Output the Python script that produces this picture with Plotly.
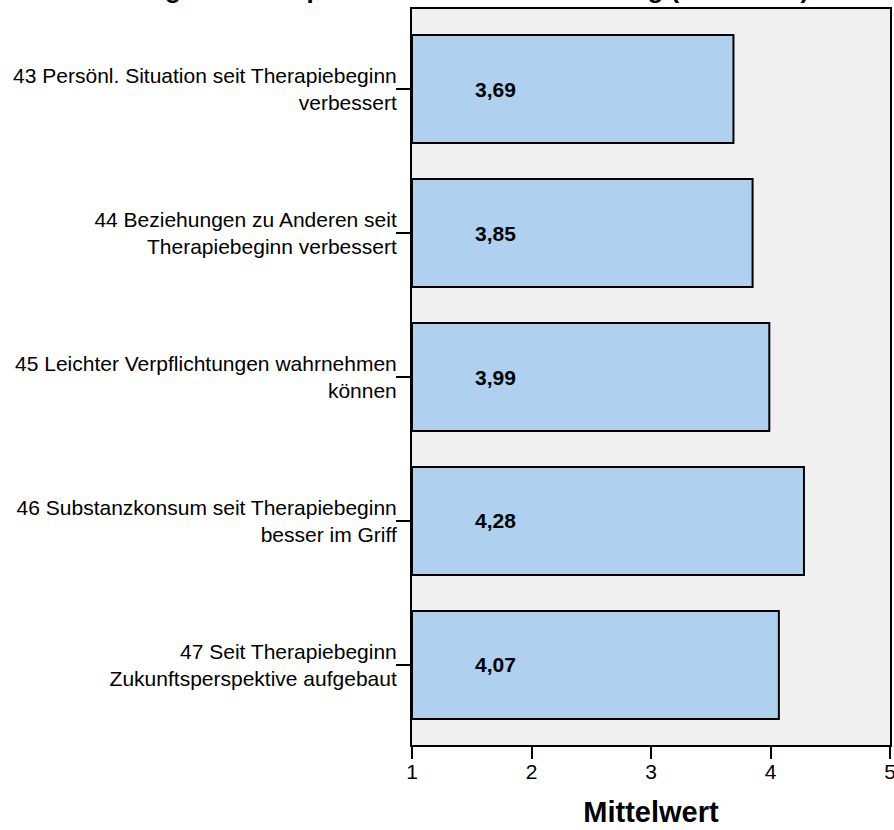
import plotly.graph_objects as go

categories = [
    "43 Persönl. Situation seit Therapiebeginn<br>verbessert",
    "44 Beziehungen zu Anderen seit<br>Therapiebeginn verbessert",
    "45 Leichter Verpflichtungen wahrnehmen<br>können",
    "46 Substanzkonsum seit Therapiebeginn<br>besser im Griff",
    "47 Seit Therapiebeginn<br>Zukunftsperspektive aufgebaut",
]
values = [3.69, 3.85, 3.99, 4.28, 4.07]
x_ticks = [1, 2, 3, 4, 5]
title_text = "Wirkung der Therapie nach Selbsteinschätzung (Mittelwert)"
axis_min = 1

FONT = "Liberation Sans, Arial, sans-serif"

fig = go.Figure()
fig.add_trace(go.Bar(
    y=categories, x=[v - axis_min for v in values], base=axis_min,
    orientation="h",
    marker=dict(color="#AFD0EE", line=dict(color="black", width=2)),
    width=0.75,
    hoverinfo="skip",
))

for c, v in zip(categories, values):
    fig.add_annotation(x=1.51, y=c, text="<b>" + f"{v:.2f}".replace(".", ",") + "</b>",
                       xanchor="left", yanchor="middle", showarrow=False,
                       font=dict(family=FONT, size=21, color="black"))

fig.add_annotation(xref="paper", yref="paper", x=0.835, y=1.0, yshift=3,
                   text="<b>" + title_text + "</b>", showarrow=False,
                   xanchor="right", yanchor="bottom",
                   font=dict(family=FONT, size=26, color="black"))

fig.update_layout(
    width=894, height=830,
    margin=dict(l=412, r=4, t=9, b=85, autoexpand=False),
    paper_bgcolor="white", plot_bgcolor="#F0F0F0",
    showlegend=False,
    font=dict(family=FONT, size=21, color="black"),
    xaxis=dict(range=[1, 5], tickvals=x_ticks, ticktext=[str(t) for t in x_ticks],
               ticks="outside", ticklen=12, tickwidth=2, tickcolor="black",
               showline=True, linecolor="black", linewidth=2, mirror=True,
               showgrid=False, zeroline=False, automargin=False,
               ticklabelstandoff=-5, ticklabeloverflow="allow",
               title=dict(text="<b>Mittelwert</b>", font=dict(size=29), standoff=19)),
    yaxis=dict(categoryorder="array", categoryarray=categories[::-1],
               range=[-0.556, 4.556],
               ticks="outside", ticklen=14, tickwidth=2, tickcolor="black",
               showline=True, linecolor="black", linewidth=2, mirror=True,
               showgrid=False, zeroline=False, automargin=False,
               ticklabelstandoff=-5, ticklabeloverflow="allow"),
)
fig.write_html("out.html", config={"displayModeBar": False},
               post_script="document.body.style.margin='0';document.body.style.overflow='hidden';")
